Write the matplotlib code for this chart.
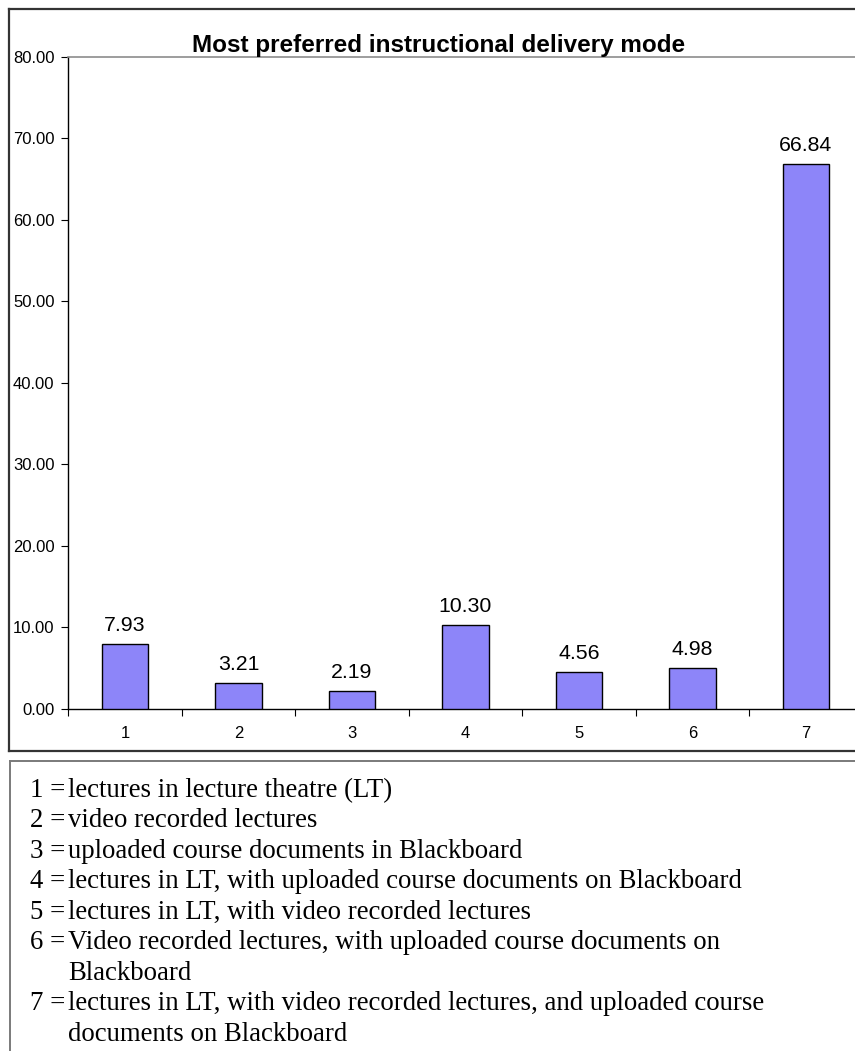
import matplotlib
matplotlib.use("Agg")
import matplotlib.pyplot as plt
from matplotlib.lines import Line2D

categories = ["1", "2", "3", "4", "5", "6", "7"]
values = [7.93, 3.21, 2.19, 10.30, 4.56, 4.98, 66.84]
title = "Most preferred instructional delivery mode"
yticks = [0, 10, 20, 30, 40, 50, 60, 70, 80]
legend_numbers = ["1", "2", "3", "4", "5", "6", "7"]
legend_texts = [
    ["lectures in lecture theatre (LT)"],
    ["video recorded lectures"],
    ["uploaded course documents in Blackboard"],
    ["lectures in LT, with uploaded course documents on Blackboard"],
    ["lectures in LT, with video recorded lectures"],
    ["Video recorded lectures, with uploaded course documents on", "Blackboard"],
    ["lectures in LT, with video recorded lectures, and uploaded course", "documents on Blackboard"],
]

W, H = 855, 1051
fig = plt.figure(figsize=(W / 100, H / 100), dpi=100)

def fx(px):
    return px / W

def fy(py):
    return 1 - py / H

# axes geometry in pixels
ax_l, ax_r, ax_t, ax_b = 68.3, 862.5, 56.7, 709.0
ax = fig.add_axes([fx(ax_l), fy(ax_b), fx(ax_r) - fx(ax_l), fy(ax_t) - fy(ax_b)])

x = list(range(len(categories)))
ax.bar(x, values, width=0.41, color="#8d85f9", edgecolor="black", linewidth=1.0, zorder=3)
for xi, v in zip(x, values):
    ax.annotate(f"{v:.2f}", (xi, v), xytext=(0, 9.5), textcoords="offset points",
                ha="center", va="baseline", fontsize=15.3, family="Liberation Sans")

ax.set_xlim(-0.5, len(categories) - 0.5)
ax.set_ylim(0, 80)
ax.set_yticks(yticks)
ax.set_yticklabels([f"{t:.2f}" for t in yticks], fontsize=12, family="Liberation Sans")
ax.set_xticks(x)
ax.set_xticklabels(categories, fontsize=12, family="Liberation Sans")
ax.set_xticks([i - 0.5 for i in range(len(categories) + 1)], minor=True)
ax.tick_params(axis="x", which="major", length=0, pad=12.5)
ax.tick_params(axis="x", which="minor", length=5, width=0.8, direction="out")
ax.tick_params(axis="y", length=5, width=0.8, direction="out", pad=5)
ax.spines["top"].set_color("#8c8c8c")
ax.spines["top"].set_linewidth(1.2)
ax.spines["right"].set_visible(False)
ax.spines["left"].set_linewidth(1.0)
ax.spines["bottom"].set_linewidth(1.0)

fig.text(fx(439), fy(51.7), title, ha="center", va="baseline", fontsize=17.5,
         fontweight="bold", family="Liberation Sans")

# outer chart box
box_col = "#333333"
fig.add_artist(Line2D([fx(9), fx(9)], [fy(9), fy(750.7)], color=box_col, lw=1.6))
fig.add_artist(Line2D([fx(9), 1.01], [fy(9), fy(9)], color=box_col, lw=1.6))
fig.add_artist(Line2D([fx(9), 1.01], [fy(750.7), fy(750.7)], color=box_col, lw=1.6))

# legend box
leg_col = "#7a7a7a"
fig.add_artist(Line2D([fx(10), fx(10)], [fy(760.7), -0.01], color=leg_col, lw=1.4))
fig.add_artist(Line2D([fx(10), 1.01], [fy(760.7), fy(760.7)], color=leg_col, lw=1.4))

base = 796.7
step = 30.5
row = 0
for num, lines in zip(legend_numbers, legend_texts):
    for j, line in enumerate(lines):
        yb = base + row * step
        if j == 0:
            fig.text(fx(30), fy(yb), f"{num} =", ha="left", va="baseline",
                     fontsize=19.3, family="Liberation Serif")
        fig.text(fx(68.3), fy(yb), line, ha="left", va="baseline",
                 fontsize=19.3, family="Liberation Serif")
        row += 1

fig.savefig("out.png", dpi=100)
